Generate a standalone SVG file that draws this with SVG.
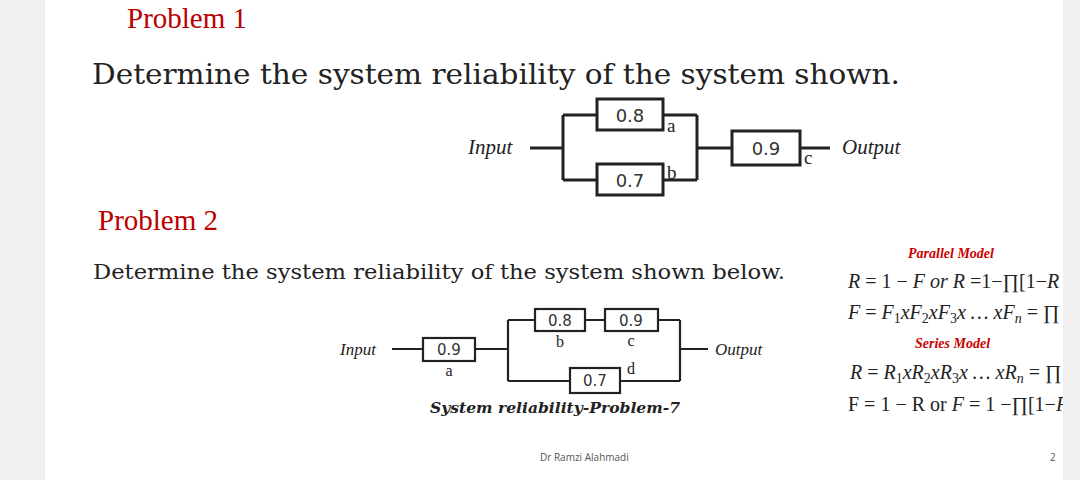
<svg xmlns="http://www.w3.org/2000/svg" width="1080" height="480" viewBox="0 0 1080 480">
<style>
.s{font-family:"DejaVu Serif","Liberation Serif",serif;fill:#222}
.t{font-family:"Liberation Serif",serif;fill:#222}
.i{font-family:"Liberation Serif",serif;font-style:italic;fill:#222}
.r{font-family:"Liberation Serif",serif;fill:#c00;font-weight:bold;font-style:italic}
.b{fill:#fff;stroke:#222;stroke-width:3}
.b2{fill:#fff;stroke:#222;stroke-width:2.2}
.n{font-family:"DejaVu Sans","Liberation Sans",sans-serif;fill:#333}
.w{fill:none;stroke:#222;stroke-width:3}
.w2{fill:none;stroke:#222;stroke-width:2.2}
</style>
<rect width="1080" height="480" fill="#f0f0f0"/>
<rect x="45" y="0" width="1020" height="480" fill="#fff"/>
<text class="t" x="127" y="28" font-size="29" style="fill:#b00">Problem 1</text>
<text class="s" x="92" y="84" font-size="28" textLength="808" lengthAdjust="spacingAndGlyphs">Determine the system reliability of the system shown.</text>
<g id="connectors">
<path class="w" d="M530 148H563M563 115V180M563 115H597M563 180H597M663 115H697M663 180H697M697 115V180M697 148H732M800 148H830"/>
<path class="w2" d="M392 349H423M475 349H508M508 320V381M508 320H535M585 320H605M658 320H680M680 320V381M508 381H570M620 381H680M680 349H708"/>
</g>
<g id="p1a"><rect class="b" x="597" y="99" width="66" height="31"/><text class="n" x="630" y="122" font-size="18" text-anchor="middle">0.8</text><text class="t" x="667" y="132" font-size="19">a</text></g>
<g id="p1b"><rect class="b" x="597" y="164" width="66" height="31"/><text class="n" x="630" y="187" font-size="18" text-anchor="middle">0.7</text><text class="t" x="667" y="179" font-size="19">b</text></g>
<g id="p1c"><rect class="b" x="732" y="131" width="68" height="34"/><text class="n" x="766" y="155" font-size="18" text-anchor="middle">0.9</text><text class="t" x="804" y="164" font-size="19">c</text></g>
<text class="i" x="468" y="154" font-size="21">Input</text>
<text class="i" x="842" y="154" font-size="21">Output</text>
<text class="t" x="98" y="230" font-size="29" style="fill:#b00">Problem 2</text>
<text class="s" x="93" y="279" font-size="21" textLength="692" lengthAdjust="spacingAndGlyphs">Determine the system reliability of the system shown below.</text>
<g id="p2a"><rect class="b2" x="423" y="338" width="52" height="23"/><text class="n" x="449" y="355" font-size="15" text-anchor="middle">0.9</text><text class="t" x="449" y="376" font-size="16" text-anchor="middle">a</text></g>
<g id="p2b"><rect class="b2" x="535" y="309" width="50" height="22"/><text class="n" x="560" y="326" font-size="15" text-anchor="middle">0.8</text><text class="t" x="560" y="347" font-size="16" text-anchor="middle">b</text></g>
<g id="p2c"><rect class="b2" x="605" y="309" width="53" height="22"/><text class="n" x="631" y="326" font-size="15" text-anchor="middle">0.9</text><text class="t" x="631" y="346" font-size="16" text-anchor="middle">c</text></g>
<g id="p2d"><rect class="b2" x="570" y="368" width="50" height="25"/><text class="n" x="595" y="386" font-size="15" text-anchor="middle">0.7</text><text class="t" x="631" y="374" font-size="16" text-anchor="middle">d</text></g>
<text class="i" x="340" y="355" font-size="17">Input</text>
<text class="i" x="715" y="355" font-size="17">Output</text>
<text class="s" x="430" y="413" font-size="15" font-weight="bold" font-style="italic" textLength="250" lengthAdjust="spacingAndGlyphs">System reliability-Problem-7</text>
<text class="r" x="908" y="258" font-size="14">Parallel Model</text>
<text class="i" x="848" y="288" font-size="20">R <tspan font-style="normal">= 1 −</tspan> F or R <tspan font-style="normal">=1−∏[1−</tspan>R</text>
<text class="i" x="848" y="319" font-size="20">F <tspan font-style="normal">=</tspan> F<tspan font-size="14" dy="4" font-style="normal">1</tspan><tspan dy="-4">xF</tspan><tspan font-size="14" dy="4" font-style="normal">2</tspan><tspan dy="-4">xF</tspan><tspan font-size="14" dy="4" font-style="normal">3</tspan><tspan dy="-4">x … xF</tspan><tspan font-size="14" dy="4">n</tspan><tspan dy="-4" font-style="normal"> = ∏</tspan></text>
<text class="r" x="915" y="348" font-size="14">Series Model</text>
<text class="i" x="850" y="379" font-size="20">R <tspan font-style="normal">=</tspan> R<tspan font-size="14" dy="4" font-style="normal">1</tspan><tspan dy="-4">xR</tspan><tspan font-size="14" dy="4" font-style="normal">2</tspan><tspan dy="-4">xR</tspan><tspan font-size="14" dy="4" font-style="normal">3</tspan><tspan dy="-4">x … xR</tspan><tspan font-size="14" dy="4">n</tspan><tspan dy="-4" font-style="normal"> = ∏</tspan></text>
<text class="t" x="848" y="411" font-size="20">F = 1 − R or <tspan font-style="italic">F</tspan> = 1 −∏[1−<tspan font-style="italic">F</tspan></text>
<rect x="1063" y="0" width="17" height="480" fill="#f0f0f0"/>
<text x="540" y="461" font-family="Open Sans,sans-serif" font-size="10" fill="#555">Dr Ramzi Alahmadi</text>
<text x="1050" y="461" font-family="Open Sans,sans-serif" font-size="10" fill="#555">2</text>
</svg>
